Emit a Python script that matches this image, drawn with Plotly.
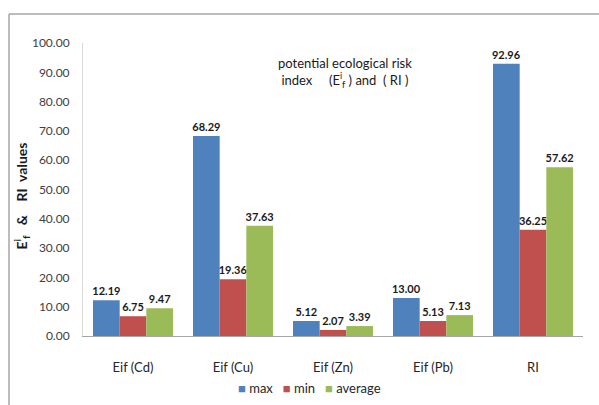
import plotly.graph_objects as go

categories = ["Eif (Cd)", "Eif (Cu)", "Eif (Zn)", "Eif (Pb)", "RI"]
max_vals = [12.19, 68.29, 5.12, 13.00, 92.96]
min_vals = [6.75, 19.36, 2.07, 5.13, 36.25]
avg_vals = [9.47, 37.63, 3.39, 7.13, 57.62]
y_ticks = [0, 10, 20, 30, 40, 50, 60, 70, 80, 90, 100]

FONT = "Lato, Calibri, sans-serif"
NB = "\u00a0"

series = [
    ("max", max_vals, "#4F81BD"),
    ("min", min_vals, "#C0504D"),
    ("average", avg_vals, "#9BBB59"),
]

fig = go.Figure()
for name, vals, color in series:
    fig.add_trace(go.Bar(
        x=categories, y=vals, name=name,
        marker=dict(color=color, line=dict(width=0)),
        text=[f"{v:.2f}" for v in vals],
        textposition="outside",
        constraintext="none",
        cliponaxis=False,
        textfont=dict(family=FONT, size=11, color="#1a1a1a", weight="bold"),
    ))

fig.update_layout(
    width=599, height=405,
    margin=dict(l=83, r=16, t=43, b=69),
    paper_bgcolor="white", plot_bgcolor="white",
    barmode="group", bargap=0.2, bargroupgap=0,
    font=dict(family=FONT, color="#404040"),
    showlegend=False,
    xaxis=dict(showline=True, linecolor="#A6A6A6", linewidth=1, ticks="",
               tickfont=dict(family=FONT, size=13, color="#262626"),
               ticklabelstandoff=19, showgrid=False),
    yaxis=dict(range=[0, 100], tickvals=y_ticks, ticktext=[f"{v:.2f}" for v in y_ticks],
               showline=True, linecolor="#D9D9D9", linewidth=1, ticks="",
               showgrid=False, zeroline=False,
               tickfont=dict(family=FONT, size=12, color="#404040"),
               ticklabelstandoff=10),
)

# Legend drawn as a single line of coloured swatches and names
legend_text = (NB * 3).join(
    f"<span style='color:{c}'>■</span>{NB}{n}" for n, _, c in series
)
fig.add_annotation(
    text=legend_text, xref="paper", yref="paper", x=0.452, y=-0.177,
    xanchor="center", yanchor="middle", showarrow=False,
    font=dict(family=FONT, size=13, color="#262626"),
)

# Axis title and in-chart caption
fig.add_annotation(
    text=f"E<sup>i</sup><sub>f</sub>{NB * 3}&amp;{NB * 4}RI{NB}{NB}values",
    xref="paper", yref="paper", x=-0.122, y=0.476, textangle=-90,
    xanchor="center", yanchor="middle",
    showarrow=False, font=dict(family=FONT, size=14, color="#1a1a1a", weight="bold"),
)
fig.add_annotation(
    text=f"potential ecological risk<br>index{NB * 5}(E<sup>i</sup><sub>f</sub>{NB}) and{NB}{NB}( RI )",
    xref="paper", yref="paper", x=0.524, y=0.899, xanchor="center", yanchor="middle",
    showarrow=False,
    font=dict(family=FONT, size=13, color="#1a1a1a"),
)

# Chart-area frame (left and top edges)
fig.add_shape(type="line", xref="paper", yref="paper", x0=-0.148, x1=-0.148, y0=-0.3, y1=1.099,
              line=dict(color="#A6A6A6", width=1.5))
fig.add_shape(type="line", xref="paper", yref="paper", x0=-0.148, x1=1.1, y0=1.099, y1=1.099,
              line=dict(color="#A6A6A6", width=1.5))

fig.write_html("out.html")
